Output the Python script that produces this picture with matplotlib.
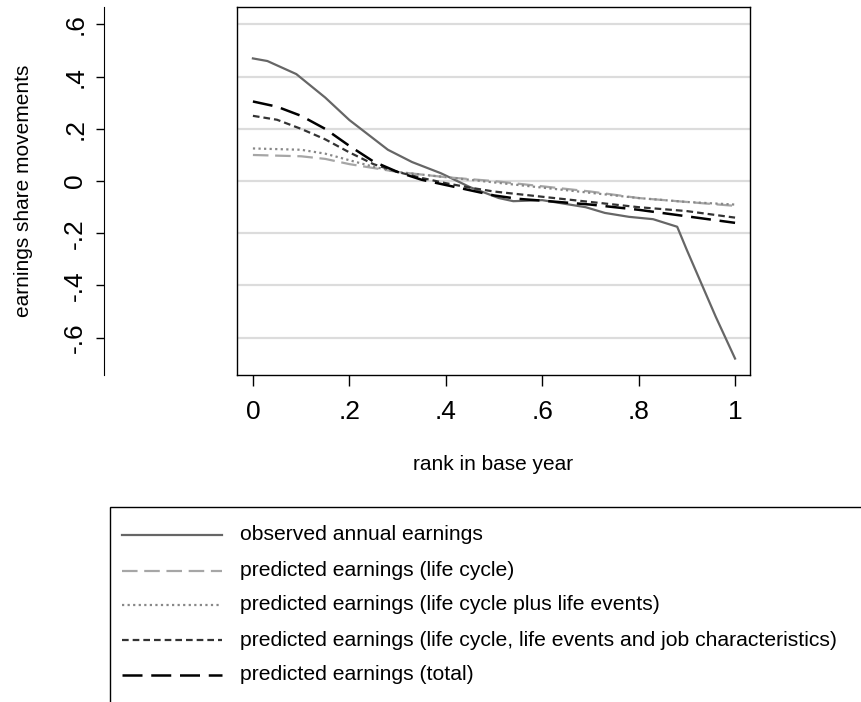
import matplotlib
matplotlib.use("Agg")
import matplotlib.pyplot as plt
from matplotlib.patches import Rectangle
from matplotlib.lines import Line2D

plt.rcParams['font.family'] = ['Liberation Sans', 'DejaVu Sans']

obs_x = [0, 0.03, 0.09, 0.15, 0.2, 0.28, 0.33, 0.39, 0.45, 0.51, 0.54, 0.6, 0.69, 0.73, 0.78, 0.83, 0.88, 0.9, 0.96, 1.0]
obs_y = [0.47, 0.46, 0.41, 0.32, 0.234, 0.12, 0.073, 0.03, -0.023, -0.065, -0.077, -0.073, -0.1, -0.122, -0.137, -0.146, -0.175, -0.264, -0.52, -0.68]

px = [0, 0.05, 0.1, 0.15, 0.2, 0.25, 0.3, 0.35, 0.4, 0.45, 0.5, 0.55, 0.6, 0.7, 0.8, 0.9, 1.0]
total = [0.305, 0.285, 0.25, 0.2, 0.135, 0.075, 0.035, 0.005, -0.015, -0.035, -0.055, -0.068, -0.075, -0.09, -0.11, -0.135, -0.16]
job = [0.25, 0.235, 0.2, 0.16, 0.11, 0.065, 0.035, 0.012, -0.008, -0.025, -0.04, -0.05, -0.06, -0.08, -0.1, -0.115, -0.14]

px2 = [0, 0.1, 0.15, 0.2, 0.25, 0.3, 0.4, 0.5, 0.6, 0.7, 0.8, 0.9, 1.0]
events = [0.125, 0.12, 0.105, 0.08, 0.055, 0.035, 0.015, -0.005, -0.025, -0.045, -0.065, -0.08, -0.09]
lifecycle = [0.1, 0.095, 0.085, 0.065, 0.05, 0.035, 0.015, 0.0, -0.02, -0.04, -0.065, -0.08, -0.095]

labels = ["observed annual earnings",
          "predicted earnings (life cycle)",
          "predicted earnings (life cycle plus life events)",
          "predicted earnings (life cycle, life events and job characteristics)",
          "predicted earnings (total)"]
yticks = [-0.6, -0.4, -0.2, 0, 0.2, 0.4, 0.6]
ytl = ["-.6", "-.4", "-.2", "0", ".2", ".4", ".6"]
xticks = [0, 0.2, 0.4, 0.6, 0.8, 1.0]
xtl = ["0", ".2", ".4", ".6", ".8", "1"]

W, H = 862, 702
fig = plt.figure(figsize=(W/100, H/100), dpi=100)
ylim = (-0.743, 0.667)
xlim = (-0.033, 1.031)

ax = fig.add_axes([237/W, 1-375/H, (750-237)/W, (375-7)/H])
ax.set_xlim(*xlim); ax.set_ylim(*ylim)
for y in yticks:
    ax.axhline(y, color='#dcdcdc', lw=1.6, zorder=0)
styles = [dict(color='#666666', lw=1.6, ls='-'),
          dict(color='#a6a6a6', lw=1.6, ls=(0, (7, 3))),
          dict(color='#888888', lw=1.6, ls=(0, (1, 1.5))),
          dict(color='#333333', lw=1.6, ls=(0, (3, 1.8))),
          dict(color='#000000', lw=1.8, ls=(0, (8, 3.5)))]
series = [(obs_x, obs_y), (px2, lifecycle), (px2, events), (px, job), (px, total)]
for (xs, ys), st in zip(series, styles):
    ax.plot(xs, ys, **st)
ax.set_yticks([])
ax.set_xticks(xticks)
ax.set_xticklabels(xtl, fontsize=19)
ax.tick_params(axis='x', length=8, width=1, pad=10)
for s in ax.spines.values():
    s.set_linewidth(1)
ax.set_xlabel("rank in base year", fontsize=15, labelpad=22)

ay = fig.add_axes([104/W, 1-375/H, 0.001, (375-7)/H])
ay.set_ylim(*ylim)
for k in ['top', 'right', 'bottom']:
    ay.spines[k].set_visible(False)
ay.patch.set_visible(False)
ay.set_xticks([])
ay.set_yticks(yticks)
ay.set_yticklabels(ytl, fontsize=19, rotation=90, va='center')
ay.tick_params(axis='y', length=6, width=1, pad=6)
ay.set_ylabel("earnings share movements", fontsize=15, labelpad=22)

fig.add_artist(Rectangle((110/W, -0.1), 1.0, 1-507/H+0.1, transform=fig.transFigure,
                         fill=False, lw=1, ec='black'))
rows = [535, 571, 605, 640, 675]
for r, lab, st in zip(rows, labels, styles):
    yf = 1 - r/H
    fig.add_artist(Line2D([122/W, 222/W], [yf, yf], transform=fig.transFigure, **st))
    fig.text(240/W, yf, lab, fontsize=15.2, va='center', ha='left')

fig.savefig("out.png", dpi=100)
